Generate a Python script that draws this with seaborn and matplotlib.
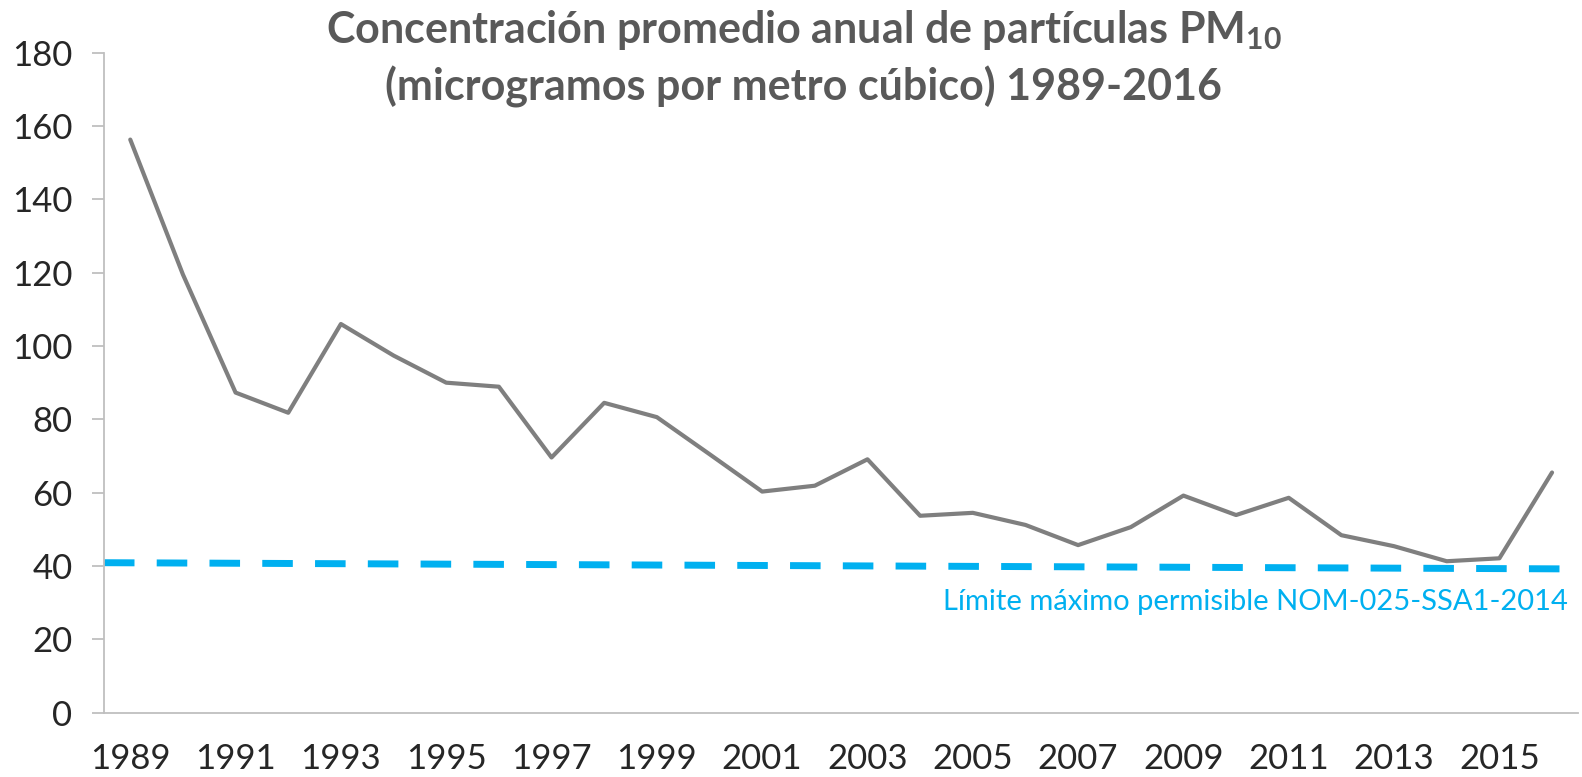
import numpy as np
import pandas as pd
import matplotlib
matplotlib.use("Agg")
import matplotlib.pyplot as plt
import seaborn as sns

# datos
anios = list(range(1989, 2017))
pm10 = [156.3, 119.5, 87.3, 81.8, 106.0, 97.4, 90.0, 88.9, 69.6, 84.5,
        80.6, 70.5, 60.3, 61.9, 69.1, 53.7, 54.5, 51.2, 45.7, 50.6,
        59.2, 53.9, 58.6, 48.4, 45.4, 41.3, 42.1, 65.5]
limite_inicio = 40.9
limite_fin = 39.2
etiqueta_limite = "Límite máximo permisible NOM-025-SSA1-2014"
titulo = "Concentración promedio anual de partículas PM$_{10}$\n(microgramos por metro cúbico) 1989-2016"

df = pd.DataFrame({"anio": anios, "pm10": pm10})

sns.set_style("white")
plt.rcParams['font.family'] = ['Lato', 'DejaVu Sans']
plt.rcParams['mathtext.fontset'] = 'custom'
plt.rcParams['mathtext.rm'] = 'Lato:bold'
plt.rcParams['mathtext.default'] = 'rm'

fig = plt.figure(figsize=(15.82, 7.77), dpi=100)
ax = fig.add_axes([0.0657, 0.0828, 0.932, 0.8494])

sns.lineplot(data=df, x="anio", y="pm10", color="#7F7F7F", linewidth=3, ax=ax)

ax.set_xlim(anios[0] - 0.5, anios[-1] + 0.5)
ax.set_ylim(0, 180)

# linea del limite permisible
ax.plot(ax.get_xlim(), [limite_inicio, limite_fin], color="#00B0F0",
        linewidth=5, dashes=(4.4, 3.2))
ax.text(0.993, 28, etiqueta_limite, transform=ax.get_yaxis_transform(),
        ha="right", va="baseline", fontsize=21, color="#00B0F0")

ax.set_xticks(anios[::2])
ax.set_yticks(range(0, 181, 20))
ax.tick_params(axis="y", labelsize=25, length=8.6, width=1.3, color="#BFBFBF",
               left=True, pad=14)
ax.tick_params(axis="x", labelsize=25, length=0, pad=22)
for s in ["top", "right"]:
    ax.spines[s].set_visible(False)
for s in ["left", "bottom"]:
    ax.spines[s].set_color("#BFBFBF")
    ax.spines[s].set_linewidth(1.3)
ax.set_xlabel("")
ax.set_ylabel("")

fig.text(0.508, 0.99, titulo, ha="center", va="top", fontsize=31,
         fontweight="bold", color="#595959", linespacing=1.4)

fig.savefig("out.png", dpi=100)
